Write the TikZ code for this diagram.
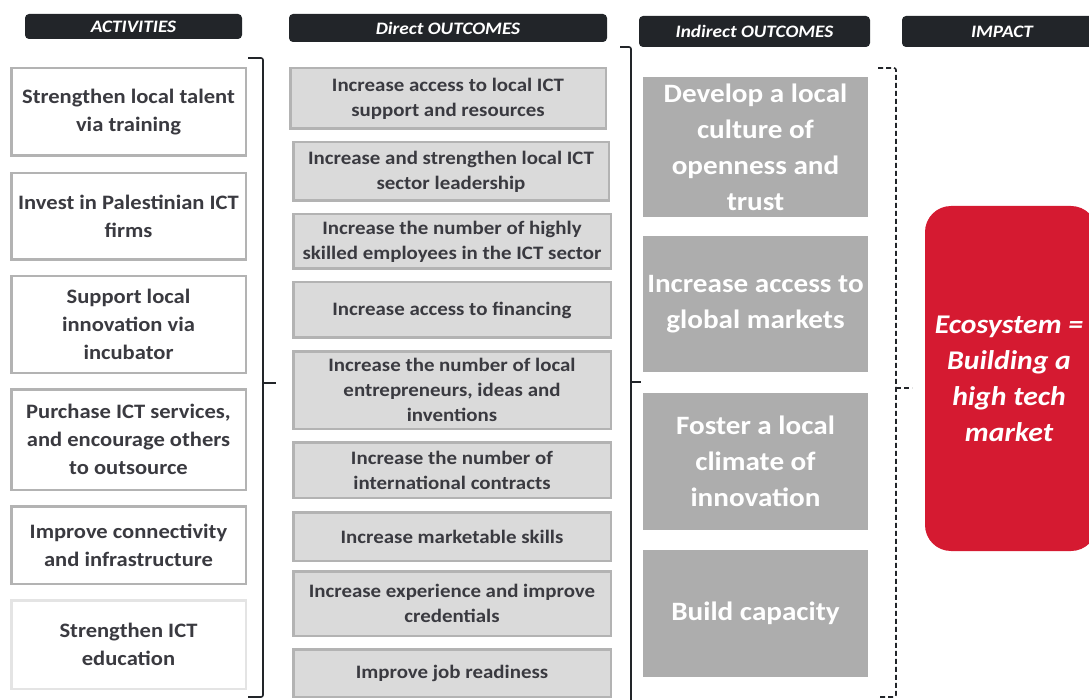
\documentclass[tikz,border=0pt]{standalone}
\usepackage{fontspec}
\setmainfont{Carlito}[FakeStretch=1.1]
\usetikzlibrary{positioning}
\definecolor{hdrblack}{HTML}{222529}
\definecolor{boxline}{HTML}{B3B3B3}
\definecolor{paleline}{HTML}{E4E4E4}
\definecolor{dirfill}{HTML}{DADADA}
\definecolor{indfill}{HTML}{ADADAD}
\definecolor{impred}{HTML}{D51A31}
\definecolor{txtdark}{HTML}{3A3A40}
\tikzset{%
	header/.style   = {fill=hdrblack, rounded corners=4pt, text=white, inner sep=0pt, font=\fontsize{17.5}{19}\selectfont\bfseries\itshape},
	activity/.style = {draw=boxline, line width=2.5pt, fill=white, text=txtdark, align=center, inner sep=0pt, font=\fontsize{20.5}{28}\selectfont\bfseries},
	direct/.style   = {draw=boxline, line width=2.5pt, fill=dirfill, text=txtdark, align=center, inner sep=0pt, font=\fontsize{19}{25}\selectfont\bfseries},
	indirect/.style = {fill=indfill, text=white, align=center, inner sep=0pt, font=\fontsize{26.5}{36}\selectfont\bfseries},
	impact/.style   = {fill=impred, rounded corners=26pt, text=white, align=center, inner sep=0pt, font=\fontsize{27}{36}\selectfont\bfseries\itshape},
	brace/.style    = {draw=hdrblack, line width=1.6pt, rounded corners=2pt},
	dashbrace/.style= {brace, dash pattern=on 5pt off 3pt},
}

\begin{document}
\begin{tikzpicture}[x=1pt,y=-1pt]
	\useasboundingbox (0,0) rectangle (1089,700);
	% column headers
	\node[header, minimum width=217, minimum height=25] (hact) at (133.5,26.5) {ACTIVITIES};
	\node[header, minimum width=318, minimum height=28] (hdir) at (448,28) {Direct OUTCOMES};
	\node[header, minimum width=231, minimum height=31] (hind) at (754.5,31.5) {Indirect OUTCOMES};
	\node[header, minimum width=200, minimum height=31] (himp) at (1002,31.5) {IMPACT};
	
	% activities
	\node[activity, minimum width=234.5, minimum height=87.5] (act1) at (128.5,112) {Strengthen local talent\\via training};
	\node[activity, minimum width=234.5, minimum height=86.5] (act2) at (128.5,216.5) {Invest in Palestinian ICT\\firms};
	\node[activity, minimum width=234.5, minimum height=96.5] (act3) at (128.5,324.5) {Support local\\innovation via\\incubator};
	\node[activity, minimum width=234.5, minimum height=100.5] (act4) at (128.5,439.5) {Purchase ICT services,\\and encourage others\\to outsource};
	\node[activity, minimum width=234.5, minimum height=77.5] (act5) at (128.5,545) {Improve connectivity\\and infrastructure};
	\node[activity, draw=paleline, minimum width=234.5, minimum height=88.5] (act6) at (128.5,644.5) {Strengthen ICT\\education};
	
	% direct outcomes
	\node[direct, minimum width=315.5, minimum height=60.5] (dir1) at (448,98.5) {Increase access to local ICT\\support and resources};
	\node[direct, minimum width=315.5, minimum height=58.5] (dir2) at (451,171.5) {Increase and strengthen local ICT\\sector leadership};
	\node[direct, minimum width=317.5, minimum height=54.5] (dir3) at (452,241.5) {Increase the number of highly\\skilled employees in the ICT sector};
	\node[direct, minimum width=317.5, minimum height=55.5] (dir4) at (452,310) {Increase access to financing};
	\node[direct, minimum width=317.5, minimum height=77.5] (dir5) at (452,390) {Increase the number of local\\entrepreneurs, ideas and\\inventions};
	\node[direct, minimum width=317.5, minimum height=55.5] (dir6) at (452,470) {Increase the number of\\international contracts};
	\node[direct, minimum width=317.5, minimum height=48.5] (dir7) at (452,536.5) {Increase marketable skills};
	\node[direct, minimum width=317.5, minimum height=64.5] (dir8) at (452,603.5) {Increase experience and improve\\credentials};
	\node[direct, minimum width=317.5, minimum height=47.5] (dir9) at (452,673) {Improve job readiness};
	
	% indirect outcomes
	\node[indirect, minimum width=225, minimum height=140] (ind1) at (755.5,147) {Develop a local\\culture of\\openness and\\trust};
	\node[indirect, minimum width=225, minimum height=136] (ind2) at (755.5,304) {Increase access to\\global markets};
	\node[indirect, minimum width=225, minimum height=137] (ind3) at (755.5,461.5) {Foster a local\\climate of\\innovation};
	\node[indirect, minimum width=225, minimum height=127] (ind4) at (755.5,613.5) {Build capacity};
	
	% impact
	\node[impact, minimum width=172, minimum height=345] (eco) at (1011,378.5) {};
	\node[text=white, align=center, font=\fontsize{27}{36}\selectfont\bfseries\itshape] (ecotext) at (1009,378.5) {Ecosystem =\\Building a\\high tech\\market};
	
	% braces
	\draw[brace] (248,58) -| (263,697) -- (248,697);
	\draw[brace] (263,383) -- (276,383);
	\draw[brace] (620,47) -| (631,702);
	\draw[brace] (631,382) -- (641,382);
	\draw[dashbrace] (878,68) -| (896,697) -- (878,697);
	\draw[dashbrace] (896,388) -- (912,388);
\end{tikzpicture}
\end{document}
